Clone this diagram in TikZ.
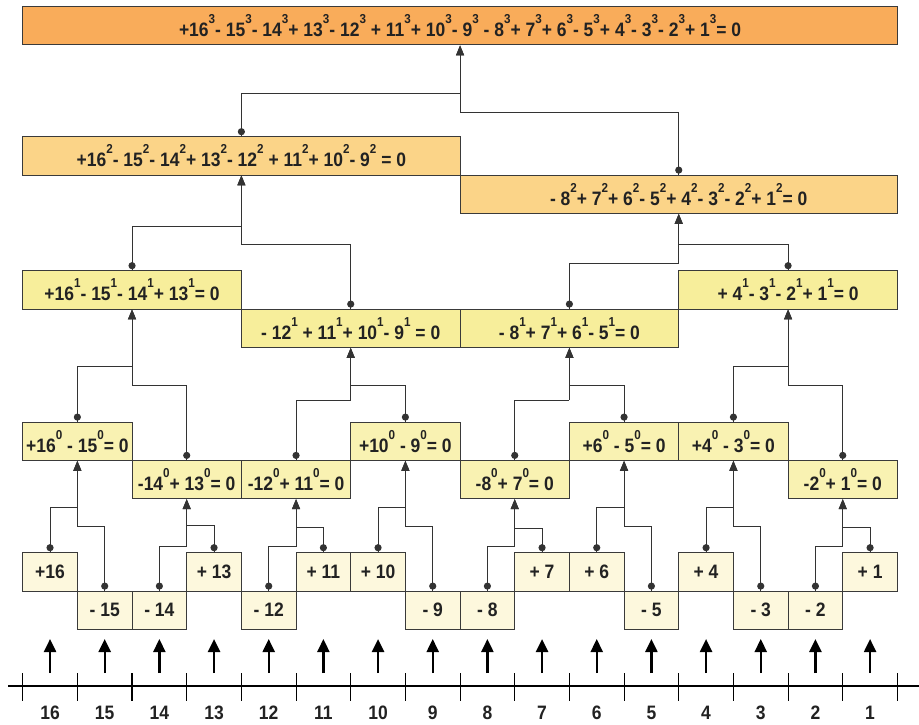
\documentclass[tikz,border=0pt]{standalone}
\usepackage{fontspec}
\setmainfont{Liberation Sans}[FakeStretch=0.9]
\usetikzlibrary{arrows.meta,calc}
\definecolor{topc}{HTML}{F9AC5A}
\definecolor{ltwo}{HTML}{FBD488}
\definecolor{lone}{HTML}{F7EE9B}
\definecolor{lzero}{HTML}{F9F2B2}
\definecolor{numc}{HTML}{FDF8DD}
\definecolor{bordc}{HTML}{3A3A3A}
\definecolor{txtc}{HTML}{222222}
\definecolor{linec}{HTML}{333333}
\newcommand\ex[1]{\raisebox{13bp}{\fontsize{13}{13}\selectfont #1}}
\newcommand\mybox[6]{\node[box,fill=#5,minimum width={#3*54.67bp}] (#1) at ({22.7+54.67*(#2+#3/2)},#4) {#6};}
\newcommand\mylink[3]{%
  \fill[linec] ($(#1.north)+(0,-4.5)$) circle[radius=3.6bp];
  \draw[conn] (#1.north) -- (#1.north |- 0,#3) -- (#2.south |- 0,#3);
  \draw[conn,-{Triangle[length=10bp,width=8bp]}] (#2.south |- 0,#3) -- (#2.south);}
\begin{document}
\begin{tikzpicture}[x=1bp,y=-1bp,
  box/.style={draw=bordc,line width=0.9bp,inner sep=0pt,minimum height=38.3bp,
    text=txtc,font=\fontsize{19.5}{21}\selectfont\bfseries},
  conn/.style={draw=linec,line width=0.9bp},
  lab/.style={text=txtc,font=\fontsize{19.5}{21}\selectfont\bfseries,inner sep=0pt},
  bigarrow/.style={draw=black,line width=2.3bp,-{Triangle[length=13bp,width=12bp]}}]
\useasboundingbox (0,0) rectangle (919,725);
% top
\mybox{d}{0}{16}{25.8}{topc}{+16\ex{3}- 15\ex{3}- 14\ex{3}+ 13\ex{3}- 12\ex{3} + 11\ex{3}+ 10\ex{3}- 9\ex{3} - 8\ex{3}+ 7\ex{3}+ 6\ex{3}- 5\ex{3}+ 4\ex{3}- 3\ex{3}- 2\ex{3}+ 1\ex{3}= 0}
% level 2
\mybox{c16}{0}{8}{155.8}{ltwo}{+16\ex{2}- 15\ex{2}- 14\ex{2}+ 13\ex{2}- 12\ex{2} + 11\ex{2}+ 10\ex{2}- 9\ex{2} = 0}
\mybox{c8}{8}{8}{194.2}{ltwo}{- 8\ex{2}+ 7\ex{2}+ 6\ex{2}- 5\ex{2}+ 4\ex{2}- 3\ex{2}- 2\ex{2}+ 1\ex{2}= 0}
% level 1
\mybox{b16}{0}{4}{289.8}{lone}{+16\ex{1}- 15\ex{1}- 14\ex{1}+ 13\ex{1}= 0}
\mybox{b12}{4}{4}{328.2}{lone}{- 12\ex{1} + 11\ex{1}+ 10\ex{1}- 9\ex{1} = 0}
\mybox{b8}{8}{4}{328.2}{lone}{- 8\ex{1}+ 7\ex{1}+ 6\ex{1}- 5\ex{1}= 0}
\mybox{b4}{12}{4}{289.8}{lone}{+ 4\ex{1}- 3\ex{1}- 2\ex{1}+ 1\ex{1}= 0}
% level 0
\mybox{a16}{0}{2}{441.2}{lzero}{+16\ex{0} - 15\ex{0}= 0}
\mybox{a14}{2}{2}{479.5}{lzero}{-14\ex{0}+ 13\ex{0}= 0}
\mybox{a12}{4}{2}{479.5}{lzero}{-12\ex{0}+ 11\ex{0}= 0}
\mybox{a10}{6}{2}{441.2}{lzero}{+10\ex{0} - 9\ex{0}= 0}
\mybox{a8}{8}{2}{479.5}{lzero}{-8\ex{0}+ 7\ex{0}= 0}
\mybox{a6}{10}{2}{441.2}{lzero}{+6\ex{0} - 5\ex{0}= 0}
\mybox{a4}{12}{2}{441.2}{lzero}{+4\ex{0} - 3\ex{0}= 0}
\mybox{a2}{14}{2}{479.5}{lzero}{-2\ex{0}+ 1\ex{0}= 0}
% numbers
\mybox{n16}{0}{1}{571.8}{numc}{+16}
\mybox{n15}{1}{1}{610.2}{numc}{- 15}
\mybox{n14}{2}{1}{610.2}{numc}{- 14}
\mybox{n13}{3}{1}{571.8}{numc}{+ 13}
\mybox{n12}{4}{1}{610.2}{numc}{- 12}
\mybox{n11}{5}{1}{571.8}{numc}{+ 11}
\mybox{n10}{6}{1}{571.8}{numc}{+ 10}
\mybox{n9}{7}{1}{610.2}{numc}{- 9}
\mybox{n8}{8}{1}{610.2}{numc}{- 8}
\mybox{n7}{9}{1}{571.8}{numc}{+ 7}
\mybox{n6}{10}{1}{571.8}{numc}{+ 6}
\mybox{n5}{11}{1}{610.2}{numc}{- 5}
\mybox{n4}{12}{1}{571.8}{numc}{+ 4}
\mybox{n3}{13}{1}{610.2}{numc}{- 3}
\mybox{n2}{14}{1}{610.2}{numc}{- 2}
\mybox{n1}{15}{1}{571.8}{numc}{+ 1}
% links numbers -> level 0
\mylink{n16}{a16}{507.3}\mylink{n15}{a16}{526.7}
\mylink{n14}{a14}{546.7}\mylink{n13}{a14}{525.5}
\mylink{n12}{a12}{546.7}\mylink{n11}{a12}{527.3}
\mylink{n10}{a10}{507.3}\mylink{n9}{a10}{526.7}
\mylink{n8}{a8}{546.7}\mylink{n7}{a8}{528}
\mylink{n6}{a6}{507.3}\mylink{n5}{a6}{526.7}
\mylink{n4}{a4}{507.3}\mylink{n3}{a4}{526.7}
\mylink{n2}{a2}{546.7}\mylink{n1}{a2}{527.3}
% level 0 -> level 1
\mylink{a16}{b16}{366}\mylink{a14}{b16}{385}
\mylink{a12}{b12}{400}\mylink{a10}{b12}{385}
\mylink{a8}{b8}{400}\mylink{a6}{b8}{385}
\mylink{a4}{b4}{366}\mylink{a2}{b4}{385}
% level 1 -> level 2
\mylink{b16}{c16}{226}\mylink{b12}{c16}{244}
\mylink{b8}{c8}{263}\mylink{b4}{c8}{244}
% level 2 -> top
\mylink{c16}{d}{93}\mylink{c8}{d}{112}
% axis
\draw[black,line width=1.1bp] (8,686) -- (919,686);
\foreach \k in {0,...,16} \draw[black,line width=1.1bp] ({22.7+54.67*\k},673) -- ({22.7+54.67*\k},701);
\foreach \n in {1,...,16} {
  \node[lab] (lab\n) at ({22.7+54.67*(16-\n+0.5)},713) {\n};
  \draw[bigarrow] ($(lab\n)+(0,-40)$) -- ($(lab\n)+(0,-74)$);
}
\end{tikzpicture}
\end{document}
